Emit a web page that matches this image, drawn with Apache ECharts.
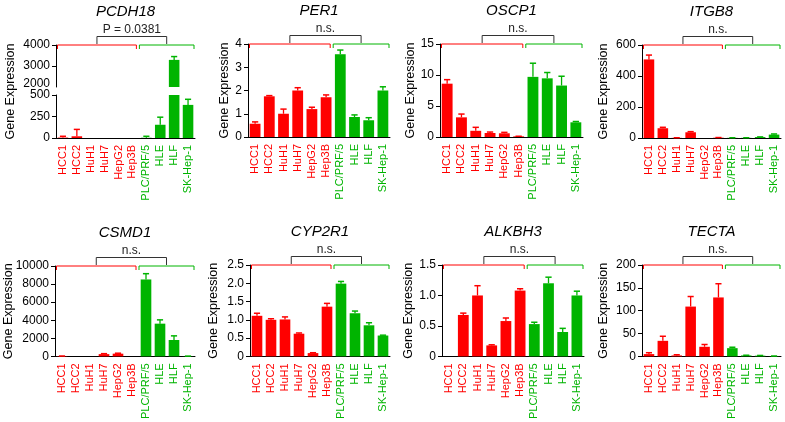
<!DOCTYPE html>
<html>
<head>
<meta charset="utf-8">
<script src="https://cdn.jsdelivr.net/npm/echarts@6/dist/echarts.min.js"></script>
<style>
html,body{margin:0;padding:0;background:#fff}
#main{width:785px;height:422px}
</style>
</head>
<body>
<div id="main"></div>
<script>
// --- data ---
var genes = ['PCDH18', 'PER1', 'OSCP1', 'ITGB8', 'CSMD1', 'CYP2R1', 'ALKBH3', 'TECTA'];
var cells = ['HCC1', 'HCC2', 'HuH1', 'HuH7', 'HepG2', 'Hep3B', 'PLC/PRF/5', 'HLE', 'HLF', 'SK-Hep-1'];
var stats = ['P = 0.0381', 'n.s.', 'n.s.', 'n.s.', 'n.s.', 'n.s.', 'n.s.', 'n.s.'];

var pcdh18 = [5, 20, 0, 0, 0, 0, 3, 154, 3291, 385];
var pcdh18Err = [15, 80, 0, 0, 0, 0, 17, 88, 158, 65];
var per1 = [0.57, 1.75, 1.0, 2.0, 1.2, 1.71, 3.56, 0.86, 0.72, 2.0];
var per1Err = [0.08, 0.03, 0.2, 0.12, 0.08, 0.1, 0.18, 0.09, 0.11, 0.16];
var oscp1 = [8.6, 3.17, 1.0, 0.65, 0.6, 0.1, 9.7, 9.46, 8.3, 2.37];
var oscp1Err = [0.65, 0.53, 0.56, 0.15, 0.15, 0.02, 2.2, 0.94, 1.5, 0.13];
var itgb8 = [507, 63, 1, 37, 0, 2, 1, 1, 6, 22];
var itgb8Err = [28, 6, 0.5, 4, 0, 1, 0.5, 0.5, 1, 4];
var csmd1 = [30, 0, 0, 250, 300, 0, 8510, 3620, 1810, 20];
var csmd1Err = [10, 0, 0, 50, 50, 0, 640, 420, 460, 10];
var cyp2r1 = [1.11, 1.0, 1.01, 0.62, 0.09, 1.36, 1.99, 1.18, 0.85, 0.57];
var cyp2r1Err = [0.07, 0.03, 0.07, 0.02, 0.01, 0.09, 0.06, 0.06, 0.07, 0.01];
var alkbh3 = [0, 0.68, 1.0, 0.18, 0.58, 1.08, 0.53, 1.2, 0.40, 1.0];
var alkbh3Err = [0, 0.03, 0.16, 0.01, 0.05, 0.03, 0.03, 0.1, 0.06, 0.07];
var tecta = [5, 34, 2, 109, 21, 129, 18, 2, 1.5, 0.5];
var tectaErr = [3, 10, 1.5, 22, 5, 30, 2, 0.5, 0.5, 0.3];

var means = [pcdh18, per1, oscp1, itgb8, csmd1, cyp2r1, alkbh3, tecta];
var errs = [pcdh18Err, per1Err, oscp1Err, itgb8Err, csmd1Err, cyp2r1Err, alkbh3Err, tectaErr];

// y scales: [min, max, interval]; PCDH18 has a broken axis
var pcdh18Upper = [2000, 4000, 1000];
var pcdh18Lower = [0, 500, 250];
var yScales = [null, [0, 4, 1], [0, 15, 5], [0, 600, 200], [0, 10000, 2000], [0, 2.5, 0.5], [0, 1.5, 0.5], [0, 200, 50]];
var oneDecimal = [false, false, false, false, false, true, true, false];

// --- layout ---
var boxes = [
  [56, 45, 195, 138], [248, 44, 390, 137], [440, 44, 583, 137], [642, 45, 781, 138],
  [55, 266, 195, 360], [250, 265, 390, 359], [442, 265, 584, 358], [642, 265, 781, 359]
];
var nameGaps = [39, 17, 23, 32, 40, 30, 27, 32];
var RED = '#ff0000', GREEN = '#00b400', FONT = 'Arial, "Liberation Sans", sans-serif';

function cellColor(i) { return i < 6 ? RED : GREEN; }

var grids = [], xAxes = [], yAxes = [], series = [], titles = [];

function addGrid(l, t, r, b) {
  grids.push({left: l, top: t, width: r - l, height: b - t, containLabel: false});
  return grids.length - 1;
}

function addX(g, showLabels, showLine, visible) {
  xAxes.push({
    type: 'category', gridIndex: g, data: cells, show: visible !== false,
    axisLine: {show: showLine, lineStyle: {color: '#000', width: 1}},
    axisTick: {show: false},
    axisLabel: {
      show: showLabels, interval: 0, rotate: 90, margin: 7,
      fontSize: 11, fontFamily: FONT,
      color: function (v, i) { return cellColor(i); }
    }
  });
}

function addY(g, sc, dec, name, gap, showAxis, hideMin) {
  yAxes.push({
    type: 'value', gridIndex: g, min: sc[0], max: sc[1], interval: sc[2],
    name: name, nameLocation: 'middle', nameGap: gap, nameMoveOverlap: false,
    nameTextStyle: {fontSize: 12.5, fontFamily: FONT, color: '#000'},
    splitLine: {show: false},
    axisLine: {show: showAxis, lineStyle: {color: '#000', width: 1}},
    axisTick: {show: showAxis, length: 4, lineStyle: {color: '#000'}},
    axisLabel: {
      show: showAxis, margin: 6, fontSize: 12, fontFamily: FONT, color: '#000',
      showMinLabel: !hideMin, showMaxLabel: true, hideOverlap: false,
      formatter: function (v) { return dec && v !== 0 ? v.toFixed(1) : String(v); }
    }
  });
}

function errorRender(lo, hi) {
  return function (params, api) {
    var x = api.value(0), m = api.value(1), e = api.value(2);
    if (!(e > 0)) return null;
    var top = m + e;
    if (m >= hi || top <= lo) return null;
    var p0 = api.coord([x, Math.max(m, lo)]);
    var p1 = api.coord([x, Math.min(top, hi)]);
    var w = api.size([1, 0])[0] * 0.22;
    var c = cellColor(x);
    var kids = [{type: 'line', shape: {x1: p0[0], y1: p0[1], x2: p1[0], y2: p1[1]}, style: {stroke: c, lineWidth: 1.3}}];
    if (top <= hi) {
      kids.push({type: 'line', shape: {x1: p1[0] - w, y1: p1[1], x2: p1[0] + w, y2: p1[1]}, style: {stroke: c, lineWidth: 1.5}});
    }
    return {type: 'group', children: kids};
  };
}

// red bracket over HCC lines, green over the others, black joining them;
// breakMin (optional) prints the lower tick value of an upper broken-axis part
function bracketRender(label, yTop, breakMin) {
  return function (params, api) {
    var band = api.size([1, 0])[0];
    var y = api.coord([0, yTop])[1];
    var left = api.coord([0, yTop])[0] - band / 2;
    var split = left + 6 * band;
    var right = left + 10 * band;
    var a0 = left + 1.5, a1 = split - 3, b0 = split, b1 = right - 1;
    var am = (a0 + a1) / 2, bm = (b0 + b1) / 2, yb = y - 8.5;
    function pl(pts, c) { return {type: 'polyline', shape: {points: pts}, style: {stroke: c, lineWidth: 1, fill: null}}; }
    var kids = [
      pl([[a0, y + 4], [a0, y], [a1, y], [a1, y + 4]], RED),
      pl([[b0, y + 4], [b0, y], [b1, y], [b1, y + 4]], GREEN),
      pl([[am, y - 1], [am, yb], [bm, yb], [bm, y - 1]], '#333'),
      {type: 'text', x: (am + bm) / 2, y: yb - 6.5,
       style: {text: label, fill: '#222', font: '12px ' + FONT, align: 'center', verticalAlign: 'middle'}}
    ];
    if (breakMin != null) {
      var yMin = api.coord([0, breakMin])[1];
      kids.push({type: 'text', x: left - 6, y: yMin - 3,
        style: {text: String(breakMin), fill: '#000', font: '12px ' + FONT, align: 'right', verticalAlign: 'middle'}});
    }
    return {type: 'group', children: kids};
  };
}

function addSeries(k, g, sc) {
  series.push({
    type: 'bar', xAxisIndex: g, yAxisIndex: g, barCategoryGap: '24%', clip: true,
    data: means[k].map(function (v, i) { return {value: v, itemStyle: {color: cellColor(i)}}; })
  });
  series.push({
    type: 'custom', xAxisIndex: g, yAxisIndex: g, renderItem: errorRender(sc[0], sc[1]),
    data: means[k].map(function (v, i) { return [i, v, errs[k][i]]; }), z: 3
  });
}

genes.forEach(function (gene, k) {
  var bx = boxes[k];
  titles.push({
    text: gene, left: (bx[0] + bx[2]) / 2, top: bx[1] - 41, textAlign: 'center', padding: 0,
    textStyle: {fontSize: 15, fontStyle: 'italic', fontWeight: 'normal', color: '#000', fontFamily: FONT}
  });
  var g;
  if (k === 0) {
    // broken axis: upper + lower grid, plus a bare grid holding the axis name
    var mid1 = bx[1] + 42, mid2 = bx[1] + 50;
    g = addGrid(bx[0], bx[1], bx[2], mid1);
    addX(g, false, false, false);
    addY(g, pcdh18Upper, false, '', 0, true, true);
    addSeries(k, g, pcdh18Upper);
    series.push({type: 'custom', xAxisIndex: g, yAxisIndex: g, data: [[0]], z: 4,
      renderItem: bracketRender(stats[k], pcdh18Upper[1], pcdh18Upper[0])});
    var g2 = addGrid(bx[0], mid2, bx[2], bx[3]);
    addX(g2, true, true); addY(g2, pcdh18Lower, false, '', 0, true, false); addSeries(k, g2, pcdh18Lower);
    var g3 = addGrid(bx[0], bx[1], bx[2], bx[3]);
    addX(g3, false, false, false); addY(g3, [0, 1, 1], false, 'Gene Expression', nameGaps[k], false, false);
  } else {
    g = addGrid(bx[0], bx[1], bx[2], bx[3]);
    addX(g, true, true);
    addY(g, yScales[k], oneDecimal[k], 'Gene Expression', nameGaps[k], true, false);
    addSeries(k, g, yScales[k]);
    series.push({type: 'custom', xAxisIndex: g, yAxisIndex: g, data: [[0]], z: 4,
      renderItem: bracketRender(stats[k], yScales[k][1])});
  }
});

var chart = echarts.init(document.getElementById('main'));
chart.setOption({
  backgroundColor: '#fff',
  animation: false,
  title: titles,
  grid: grids,
  xAxis: xAxes,
  yAxis: yAxes,
  series: series
});
</script>
</body>
</html>
